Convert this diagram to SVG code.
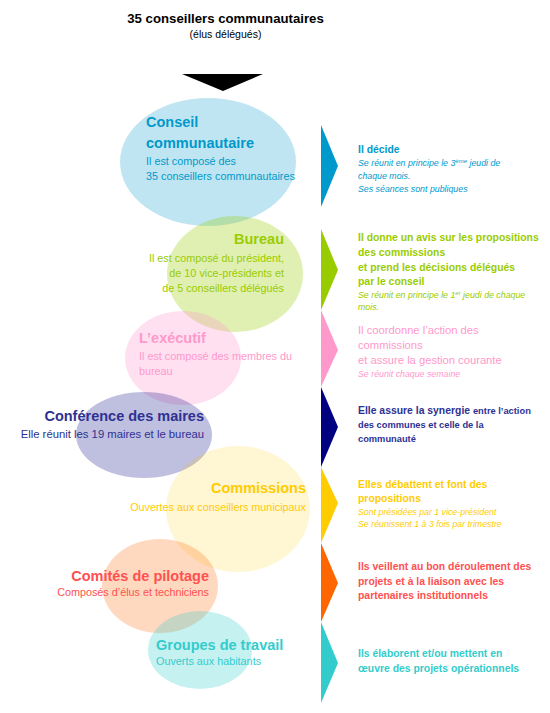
<svg xmlns="http://www.w3.org/2000/svg" width="550" height="713" viewBox="0 0 550 713">
<style>
text{font-family:"Liberation Sans",Arial,sans-serif}
.h{font-weight:bold;font-size:14.5px}
.s{font-size:10.8px}
.d{font-weight:bold;font-size:10.4px}
.i{font-style:italic;font-size:8.8px}
.r{text-anchor:end}
.cy{fill:#0099cc}.gr{fill:#99cc00}.pk{fill:#ff99cc}.nv{fill:#2e3192}.ye{fill:#ffcc00}.rd{fill:#ff5050}.c2{fill:#33cccc}
</style>
<rect width="550" height="713" fill="#fff"/>
<g id="title">
<text x="225.5" y="23" text-anchor="middle" font-weight="bold" font-size="13.2" fill="#000">35 conseillers communautaires</text>
<text x="225.5" y="38" text-anchor="middle" font-size="10.5" fill="#000">(élus délégués)</text>
</g>
<g id="connectors">
<polygon points="182,74 263,74 223,91" fill="#000"/>
</g>
<g id="conseil">
<ellipse cx="208" cy="162" rx="88" ry="64" fill="#0099cc" fill-opacity="0.25"/>
<text x="146" y="127" class="h cy">Conseil</text>
<text x="146" y="148" class="h cy">communautaire</text>
<text x="146" y="165" class="s cy">Il est composé des</text>
<text x="146" y="180" class="s cy">35 conseillers communautaires</text>
<polygon points="321,125 338,166 321,207" fill="#0099cc"/>
<text x="358" y="153" class="d cy">Il décide</text>
<text x="358" y="166" class="i cy">Se réunit en principe le 3<tspan font-size="6" baseline-shift="super">ème</tspan> jeudi de</text>
<text x="358" y="179" class="i cy">chaque mois.</text>
<text x="358" y="192" class="i cy">Ses séances sont publiques</text>
</g>
<g id="bureau">
<ellipse cx="235" cy="274" rx="68" ry="58" fill="#99cc00" fill-opacity="0.3"/>
<text x="284" y="244" class="h gr r">Bureau</text>
<text x="284" y="262" class="s gr r">Il est composé du président,</text>
<text x="284" y="277" class="s gr r">de 10 vice-présidents et</text>
<text x="284" y="292" class="s gr r">de 5 conseillers délégués</text>
<polygon points="321,229 338,270 321,310" fill="#99cc00"/>
<text x="358" y="241" class="d gr">Il donne un avis sur les propositions</text>
<text x="358" y="256" class="d gr">des commissions</text>
<text x="358" y="271" class="d gr">et prend les décisions délégués</text>
<text x="358" y="285" class="d gr">par le conseil</text>
<text x="358" y="298" class="i gr">Se réunit en principe le 1<tspan font-size="6" baseline-shift="super">er</tspan> jeudi de chaque</text>
<text x="358" y="310" class="i gr">mois.</text>
</g>
<g id="executif">
<ellipse cx="183" cy="358" rx="58" ry="47" fill="#ff99cc" fill-opacity="0.3"/>
<text x="139" y="343" class="h pk">L’exécutif</text>
<text x="139" y="360" class="s pk">Il est composé des membres du</text>
<text x="139" y="375" class="s pk">bureau</text>
<polygon points="321,310 338,350 321,387" fill="#ff99cc"/>
<text x="358" y="334" font-size="11.2" class="pk">Il coordonne l’action des</text>
<text x="358" y="349" font-size="11.2" class="pk">commissions</text>
<text x="358" y="364" font-size="11.2" class="pk">et assure la gestion courante</text>
<text x="358" y="377" class="i pk">Se réunit chaque semaine</text>
</g>
<g id="conference">
<ellipse cx="144" cy="435" rx="68" ry="43" fill="#000080" fill-opacity="0.25"/>
<text x="204" y="421" class="h nv r" font-size="15">Conférence des maires</text>
<text x="204" y="438" class="nv r" font-size="11.3">Elle réunit les 19 maires et le bureau</text>
<polygon points="321,387 338,427 321,467" fill="#000080"/>
<text x="358" y="414" class="d nv">Elle assure la synergie <tspan font-size="9.3">entre l’action</tspan></text>
<text x="358" y="428" font-weight="bold" font-size="9.3" class="nv">des communes et celle de la</text>
<text x="358" y="442" font-weight="bold" font-size="9.3" class="nv">communauté</text>
</g>
<g id="commissions">
<ellipse cx="238" cy="509" rx="72" ry="63" fill="#ffcc00" fill-opacity="0.17"/>
<text x="306" y="493" class="h ye r">Commissions</text>
<text x="306" y="511" class="s ye r">Ouvertes aux conseillers municipaux</text>
<polygon points="321,467 338,503 321,543" fill="#ffcc00"/>
<text x="358" y="488" class="d ye">Elles débattent et font des</text>
<text x="358" y="502" class="d ye">propositions</text>
<text x="358" y="515" class="i ye">Sont présidées par 1 vice-président</text>
<text x="358" y="527" class="i ye">Se réunissent 1 à 3 fois par trimestre</text>
</g>
<g id="comites">
<ellipse cx="160" cy="586" rx="58" ry="47" fill="#ff6600" fill-opacity="0.25"/>
<text x="209" y="581" class="h rd r">Comités de pilotage</text>
<text x="209" y="596" class="s rd r">Composés d’élus et techniciens</text>
<polygon points="321,543 338,583 321,622" fill="#ff6600"/>
<text x="358" y="570" class="d rd">Ils veillent au bon déroulement des</text>
<text x="358" y="585" class="d rd">projets et à la liaison avec les</text>
<text x="358" y="599" class="d rd">partenaires institutionnels</text>
</g>
<g id="groupes">
<ellipse cx="200" cy="650" rx="52" ry="39" fill="#33cccc" fill-opacity="0.28"/>
<text x="156" y="650" class="h c2">Groupes de travail</text>
<text x="156" y="665" class="s c2">Ouverts aux habitants</text>
<polygon points="321,622 338,663 321,703" fill="#33cccc"/>
<text x="358" y="657" class="d c2">Ils élaborent et/ou mettent en</text>
<text x="358" y="672" class="d c2">œuvre des projets opérationnels</text>
</g>
</svg>
